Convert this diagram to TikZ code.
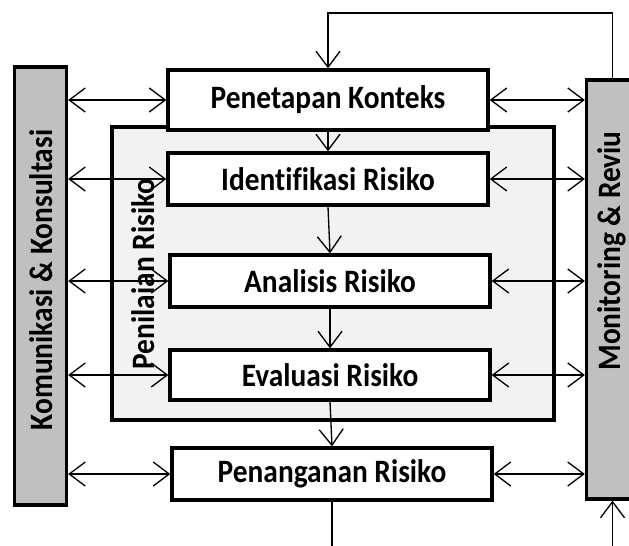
\documentclass[tikz,border=0pt]{standalone}
\usepackage{fontspec}
\setmainfont{Carlito}[FakeStretch=0.9, Ligatures=NoCommon]
\usetikzlibrary{arrows.meta}
\usepackage{xcolor}
\definecolor{BarGray}{HTML}{C0C0C0}
\definecolor{PaleGray}{HTML}{F2F2F2}

\begin{document}
\begin{tikzpicture}[
  x=0.75pt, y=-0.75pt,
  stage/.style={draw, line width=2.5pt, fill=white, minimum width=240pt, minimum height=39pt,
                font=\fontsize{24.5}{28}\selectfont\bfseries},
  sidebar/.style={draw, line width=2.5pt, fill=BarGray, minimum width=39pt},
  vlbl/.style={rotate=90, font=\fontsize{24.5}{28}\selectfont\bfseries},
  arr/.style={line width=1pt, -{Straight Barb[length=12pt,width=18pt]}},
  biarr/.style={line width=1pt, {Straight Barb[length=12pt,width=18pt]}-{Straight Barb[length=12pt,width=18pt]}}
]
  \useasboundingbox (0,0) rectangle (629,546);
  \clip (0,0) rectangle (629,546);

  %% Side bars
  \node[sidebar, minimum height=328.5pt] (kom) at (40.5,286) {};
  \node[sidebar, minimum height=314.25pt] (mon) at (612.5,289.5) {};
  \node[vlbl] (komtxt) at (41,280) {Komunikasi \& Konsultasi};
  \node[vlbl] (montxt) at (612,251) {Monitoring \& Reviu};

  %% Risk assessment frame
  \node[draw, line width=2.5pt, fill=PaleGray, minimum width=331.5pt, minimum height=219.75pt]
    (nil) at (333,273.5) {};
  \node[vlbl] (niltxt) at (143,274) {Penilaian Risiko};

  %% Process steps
  \node[stage, minimum height=45pt] (kon) at (328,100) {Penetapan Konteks};
  \node[stage] (idf) at (328,179) {Identifikasi Risiko};
  \node[stage] (ana) at (330,281) {Analisis Risiko};
  \node[stage, minimum height=37.5pt] (eva) at (330,375) {Evaluasi Risiko};
  \node[stage] (pen) at (332,474) {Penanganan Risiko};

  \coordinate (top) at (470,13);
  \coordinate (bot) at (470,570);

  %% Main flow
  \draw[arr] (kon.south) -- (idf.north);
  \draw[arr] (idf.south) -- (ana.north);
  \draw[arr] (ana.south) -- (eva.north);
  \draw[arr] (eva.south) -- (pen.north);
  \draw[line width=1pt] (pen.south) -- (pen.south |- bot);

  %% Feedback loop
  \draw[arr] (mon.north) |- (kon.north |- top) -- (kon.north);
  \draw[arr] (mon.south |- bot) -- (mon.south);

  %% Links to the side bars
  \foreach \s in {kon,idf,ana,eva,pen}{
    \draw[biarr] (kom.east |- \s.west) -- (\s.west);
    \draw[biarr] (\s.east) -- (mon.west |- \s.east);
  }
\end{tikzpicture}
\end{document}
